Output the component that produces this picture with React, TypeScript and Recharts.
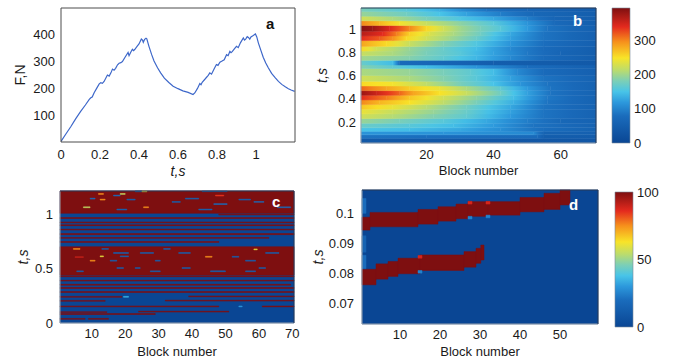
import React from "react";
import { LineChart, Line, ComposedChart, XAxis, YAxis, ReferenceArea, Label } from "recharts";

// ---- panel a: force vs time ----
const forceTime = [0, 0.025, 0.05, 0.075, 0.1, 0.125, 0.145, 0.153, 0.16, 0.17, 0.185, 0.196, 0.204, 0.212, 0.221, 0.238, 0.247, 0.256, 0.264, 0.272, 0.28, 0.29, 0.298, 0.307, 0.315, 0.33, 0.344, 0.349, 0.357, 0.366, 0.372, 0.378, 0.39, 0.4, 0.412, 0.418, 0.422, 0.429, 0.436, 0.44, 0.451, 0.465, 0.477, 0.495, 0.511, 0.53, 0.553, 0.575, 0.6, 0.625, 0.652, 0.677, 0.686, 0.7, 0.712, 0.718, 0.724, 0.74, 0.755, 0.763, 0.772, 0.785, 0.797, 0.805, 0.815, 0.826, 0.837, 0.849, 0.857, 0.866, 0.872, 0.878, 0.89, 0.9, 0.909, 0.92, 0.935, 0.941, 0.947, 0.955, 0.961, 0.968, 0.974, 0.984, 0.991, 0.997, 1.004, 1.012, 1.025, 1.037, 1.05, 1.063, 1.08, 1.098, 1.115, 1.132, 1.15, 1.166, 1.18, 1.198];
const forceValue = [2, 30, 57, 86, 113, 138, 159, 165, 168, 184, 203, 217, 221, 219, 226, 250, 246, 258, 272, 268, 275, 288, 294, 296, 300, 318, 334, 322, 334, 346, 341, 345, 357, 366, 384, 380, 372, 383, 387, 385, 357, 326, 302, 277, 258, 238, 222, 208, 199, 191, 185, 177, 183, 200, 218, 214, 223, 236, 249, 258, 253, 272, 289, 286, 298, 302, 307, 326, 322, 338, 333, 337, 348, 357, 352, 370, 388, 380, 384, 393, 390, 384, 392, 396, 400, 403, 392, 370, 342, 316, 295, 277, 256, 240, 226, 215, 206, 199, 194, 189];
const aTimeTicks = [0, 0.2, 0.4, 0.6, 0.8, 1];
const aForceTicks = [100, 200, 300, 400];

// ---- panel b: force per block (t rows, [block, value] knots) ----
const bRowEdges = [0.02, 0.06, 0.09, 0.12, 0.15, 0.19, 0.23, 0.27, 0.31, 0.35, 0.39, 0.43, 0.47, 0.51, 0.55, 0.6, 0.66, 0.69, 0.73, 0.77, 0.81, 0.85, 0.9, 0.94, 0.98, 1.03, 1.07, 1.11, 1.15, 1.18];
const bRowKnots: number[][][] = [
  [[0.5, 40], [70.5, 35]],
  [[0.5, 85], [20, 80], [53, 75], [55, 50], [70.5, 45]],
  [[0.5, 115], [25, 115], [52, 105], [55, 60], [70.5, 55]],
  [[0.5, 150], [15, 145], [30, 130], [42, 110], [55, 80], [70.5, 60]],
  [[0.5, 170], [15, 160], [28, 145], [40, 120], [52, 85], [70.5, 60]],
  [[0.5, 195], [12, 180], [25, 160], [38, 130], [50, 95], [60, 70], [70.5, 60]],
  [[0.5, 225], [10, 210], [22, 185], [32, 165], [45, 120], [55, 85], [70.5, 60]],
  [[0.5, 240], [10, 220], [22, 195], [32, 170], [45, 125], [55, 85], [70.5, 60]],
  [[0.5, 265], [10, 240], [20, 210], [32, 175], [45, 130], [55, 85], [70.5, 60]],
  [[0.5, 300], [6, 275], [15, 250], [25, 215], [35, 180], [46, 135], [56, 85], [70.5, 60]],
  [[0.5, 340], [8, 305], [15, 265], [25, 225], [35, 190], [46, 145], [56, 90], [70.5, 60]],
  [[0.5, 380], [5, 355], [12, 315], [16, 285], [24, 250], [32, 220], [42, 175], [50, 125], [57, 85], [70.5, 60]],
  [[0.5, 315], [8, 285], [15, 262], [24, 240], [32, 205], [42, 165], [50, 120], [57, 85], [70.5, 60]],
  [[0.5, 255], [10, 245], [20, 215], [30, 180], [40, 150], [48, 115], [56, 85], [70.5, 60]],
  [[0.5, 225], [15, 205], [25, 185], [35, 160], [45, 125], [55, 85], [70.5, 60]],
  [[0.5, 205], [15, 195], [25, 180], [33, 165], [40, 145], [47, 105], [55, 75], [70.5, 55]],
  [[0.5, 185], [10, 165], [20, 145], [35, 115], [50, 80], [70.5, 55]],
  [[0.5, 170], [10, 145], [12, 75], [40, 50], [70.5, 40]],
  [[0.5, 200], [15, 185], [25, 165], [35, 140], [45, 105], [55, 75], [70.5, 50]],
  [[0.5, 220], [10, 205], [20, 180], [30, 160], [40, 125], [50, 90], [60, 65], [70.5, 50]],
  [[0.5, 255], [5, 225], [15, 195], [25, 170], [35, 145], [45, 105], [55, 75], [70.5, 50]],
  [[0.5, 285], [8, 255], [15, 220], [25, 185], [35, 155], [45, 115], [55, 80], [70.5, 55]],
  [[0.5, 340], [6, 320], [10, 295], [14, 255], [20, 225], [27, 200], [35, 170], [45, 125], [55, 85], [70.5, 55]],
  [[0.5, 365], [7, 340], [11, 305], [15, 260], [21, 230], [28, 205], [36, 175], [45, 130], [55, 85], [70.5, 55]],
  [[0.5, 390], [4, 380], [9, 345], [15, 300], [20, 255], [25, 225], [30, 200], [36, 180], [42, 160], [50, 120], [56, 85], [70.5, 55]],
  [[0.5, 300], [6, 275], [12, 245], [20, 220], [30, 190], [40, 160], [50, 115], [58, 75], [70.5, 50]],
  [[0.5, 225], [10, 205], [20, 180], [30, 155], [40, 130], [50, 95], [58, 65], [70.5, 50]],
  [[0.5, 195], [14, 175], [24, 150], [32, 125], [42, 95], [52, 70], [70.5, 50]],
  [[0.5, 180], [14, 160], [24, 135], [30, 110], [38, 85], [50, 65], [70.5, 45]],
];
const bMax = 395;
const bBlockTicks = [20, 40, 60];
const bTimeTicks = [0.2, 0.4, 0.6, 0.8, 1];
const bBarTicks = [0, 100, 200, 300];

// ---- panel c: state per block (0 / 100) ----
const cRedBands = [[0.44, 0.7], [1.005, 1.21]];
// [block from, block to, t from, t to]
const cRedLines = [
  [48, 70.5, 0.99, 0.998], [0.5, 70.5, 0.958, 0.966], [0.5, 70.5, 0.918, 0.926], [0.5, 70.5, 0.892, 0.9],
  [0.5, 70.5, 0.852, 0.86], [0.5, 70.5, 0.81, 0.82], [0.5, 63, 0.776, 0.784], [0.5, 48, 0.739, 0.747],
  [0.5, 70.5, 0.424, 0.432], [0.5, 70.5, 0.384, 0.392], [0.5, 69.5, 0.347, 0.355], [0.5, 70.5, 0.317, 0.325],
  [0.5, 70.5, 0.28, 0.288], [39, 70.5, 0.24, 0.248], [0.5, 19, 0.236, 0.244], [32, 70.5, 0.201, 0.209],
  [0.5, 14, 0.199, 0.207], [0.5, 48, 0.148, 0.156], [61, 70.5, 0.148, 0.156], [0.5, 14.5, 0.096, 0.104],
  [24, 51, 0.1, 0.108], [0.5, 29, 0.078, 0.086], [0.5, 8, 0.034, 0.042], [9, 15, 0.034, 0.042],
];
// [block from, block to, t from, t to, value]
const cSpots = [
  [23, 25, 1.203, 1.211, 15], [25, 26.5, 1.203, 1.211, 60], [43, 50.5, 1.204, 1.21, 15], [12, 13.5, 1.179, 1.187, 75],
  [18.5, 20, 1.179, 1.187, 55], [16.5, 18.5, 1.164, 1.172, 20], [9.5, 11, 1.136, 1.144, 20], [20.5, 23, 1.127, 1.135, 15],
  [38, 42, 1.136, 1.144, 15], [12.5, 14, 1.127, 1.135, 75], [34, 36.5, 1.106, 1.114, 15], [47, 49.5, 1.164, 1.172, 85],
  [54, 57.5, 1.127, 1.135, 15], [46.5, 50.5, 1.086, 1.094, 20], [7.5, 9.5, 1.057, 1.065, 55], [25.5, 27, 1.057, 1.065, 75],
  [42, 46, 1.036, 1.044, 15], [17.5, 20.5, 1.036, 1.044, 15], [65.5, 69.5, 1.057, 1.065, 20], [58.5, 61.5, 1.106, 1.114, 20],
  [4.5, 6.5, 0.675, 0.683, 75], [13, 15, 0.675, 0.683, 15], [31.5, 33.5, 0.675, 0.683, 15], [16.5, 21, 0.638, 0.646, 15],
  [24.5, 28.5, 0.638, 0.646, 15], [36, 39.5, 0.638, 0.646, 15], [58.5, 59.5, 0.671, 0.679, 60], [62, 66, 0.638, 0.646, 15],
  [12.5, 13.5, 0.607, 0.615, 60], [18.5, 21, 0.607, 0.615, 15], [5, 7.5, 0.6, 0.608, 90], [44, 46, 0.603, 0.611, 75],
  [52, 54, 0.603, 0.611, 15], [9.5, 11, 0.567, 0.575, 75], [15.5, 17.5, 0.567, 0.575, 15], [29, 30.5, 0.567, 0.575, 15],
  [56, 59, 0.567, 0.575, 15], [17.5, 19.5, 0.5, 0.508, 15], [23, 24.5, 0.5, 0.508, 15], [37, 39.5, 0.5, 0.508, 15],
  [60, 62, 0.5, 0.508, 15], [5.5, 7.5, 0.47, 0.478, 15], [27.5, 30.5, 0.47, 0.478, 15], [45.5, 50, 0.47, 0.478, 15],
  [56, 59, 0.47, 0.478, 15], [19.5, 21, 0.236, 0.244, 35], [54, 55, 0.148, 0.156, 30],
];
const cBlockTicks = [10, 20, 30, 40, 50, 60, 70];
const cTimeTicks = [0, 0.5, 1];

// ---- panel d: zoom on the two fronts ----
const dUpperFront = [
  [0.5, 2.5, 0.0944, 0.0987], [2.5, 14.5, 0.0955, 0.1003], [14.5, 19.5, 0.0964, 0.1013], [19.5, 24, 0.0974, 0.1022],
  [24, 27, 0.0982, 0.1031], [27, 32, 0.099, 0.1039], [32, 40, 0.0994, 0.1039], [40, 46, 0.1005, 0.1053],
  [46, 50, 0.1013, 0.1067], [50, 52.5, 0.1028, 0.1078],
];
const dLowerFront = [
  [0.5, 4, 0.0761, 0.0813], [4, 7, 0.078, 0.0831], [7, 9.5, 0.0789, 0.0839], [9.5, 15, 0.0798, 0.085],
  [15, 26, 0.0809, 0.0861], [26, 29, 0.082, 0.0872], [29, 30.2, 0.0833, 0.0883], [30.2, 31, 0.0844, 0.0894],
];
const dSpots = [
  [27, 28, 0.1031, 0.104, 88], [31.5, 32.5, 0.1031, 0.104, 88], [27, 28, 0.0981, 0.099, 25], [31.5, 32.5, 0.0985, 0.0994, 25],
  [14.5, 15.5, 0.085, 0.0859, 88], [14.5, 15.5, 0.08, 0.0809, 25], [0.5, 1.5, 0.1, 0.105, 20], [0.5, 1.5, 0.0815, 0.086, 20],
  [0.5, 1.5, 0.087, 0.0925, 15],
];
const dBlockTicks = [10, 20, 30, 40, 50];
const dTimeTicks = [0.07, 0.08, 0.09, 0.1];
const dBarTicks = [0, 50, 100];

// ---- colours ----
const JET: [number, string][] = [
  [0, "#0a4694"], [0.2, "#1a6cbc"], [0.3, "#2c98dc"], [0.38, "#48c4e8"], [0.46, "#7ccfb6"],
  [0.54, "#bcdc6c"], [0.63, "#f8e428"], [0.75, "#f6901c"], [0.86, "#e42a1e"], [1, "#7e0f10"],
];
function rgb(h: string) {
  return [1, 3, 5].map((i) => parseInt(h.slice(i, i + 2), 16));
}
function jet(f: number) {
  const x = Math.max(0, Math.min(1, f));
  for (let i = 1; i < JET.length; i++) {
    if (x <= JET[i][0]) {
      const k = (x - JET[i - 1][0]) / (JET[i][0] - JET[i - 1][0]);
      const a = rgb(JET[i - 1][1]);
      const b = rgb(JET[i][1]);
      return `rgb(${a.map((v, j) => Math.round(v + (b[j] - v) * k)).join(",")})`;
    }
  }
  return JET[JET.length - 1][1];
}

const FONT = "'Liberation Sans', Arial, Helvetica, sans-serif";
const TICK = { fill: "#1a1a1a", fontSize: 13, fontFamily: FONT };
const LBL = { fill: "#1a1a1a", fontSize: 13, fontFamily: FONT };

type Cell = { id: string; x1: number; x2: number; y1: number; y2: number; fill: string };

// matlab-style box: inward ticks on all sides
function boxAxes(xKey: string, xd: number[], xt: number[], yd: number[], yt: number[], color: string) {
  const common = { type: "number" as const, allowDataOverflow: true, tick: false, tickSize: 4, stroke: color };
  return [
    <XAxis key="bx" xAxisId="bx" dataKey={xKey} orientation="bottom" mirror domain={xd} ticks={xt} axisLine={false} {...common} />,
    <XAxis key="tx" xAxisId="tx" dataKey={xKey} orientation="top" mirror domain={xd} ticks={xt} {...common} />,
    <YAxis key="ly" yAxisId="ly" orientation="left" mirror domain={yd} ticks={yt} axisLine={false} {...common} />,
    <YAxis key="ry" yAxisId="ry" orientation="right" mirror domain={yd} ticks={yt} {...common} />,
  ];
}

function cellArea(c: Cell) {
  return (
    <ReferenceArea key={c.id} x1={c.x1} x2={c.x2} y1={c.y1} y2={c.y2} fill={c.fill} fillOpacity={1}
      stroke={c.fill} strokeWidth={0.5} ifOverflow="visible" />
  );
}

function toCells(prefix: string, rows: number[][], fill: (r: number[]) => string): Cell[] {
  return rows.map((r, i) => ({ id: `${prefix}${i}`, x1: r[0], x2: r[1], y1: r[2], y2: r[3], fill: fill(r) }));
}

function ColorBar({ top, max, ticks, mTop, mLeft }: { top: number; max: number; ticks: number[]; mTop: number; mLeft: number }) {
  const id = `bar${max}`;
  return (
    <div style={{ position: "absolute", left: 600, top }}>
      <ComposedChart width={73} height={180} data={[{ x: 0 }, { x: 1 }]}
        margin={{ top: mTop, right: 0, bottom: 180 - mTop - 135, left: mLeft }}>
        <defs>
          <linearGradient id={id} x1="0" y1="1" x2="0" y2="0">
            {JET.map(([p, c]) => <stop key={p} offset={p} stopColor={c} />)}
          </linearGradient>
        </defs>
        <XAxis dataKey="x" type="number" domain={[0, 1]} hide allowDataOverflow />
        <YAxis type="number" orientation="right" domain={[0, max]} ticks={ticks} allowDataOverflow
          width={73 - mLeft - 18} tickLine={false} tickSize={0} axisLine={false} tick={TICK} tickMargin={4} />
        <ReferenceArea x1={0} x2={1} y1={0} y2={max} fill={`url(#${id})`} fillOpacity={1} stroke="#7a8a9a" strokeWidth={0.6} />
        <YAxis yAxisId="m" type="number" orientation="left" mirror domain={[0, max]} ticks={ticks} allowDataOverflow
          tick={false} tickSize={3} stroke="#333" axisLine={false} />
      </ComposedChart>
    </div>
  );
}

function Letter({ x, y, text, color }: { x: number; y: number; text: string; color: string }) {
  return (
    <div style={{ position: "absolute", left: x - 6, top: y - 10, fontFamily: FONT, fontWeight: "bold", fontSize: 15, color, lineHeight: "18px" }}>
      {text}
    </div>
  );
}

export default function App() {
  const forceData = forceTime.map((t, i) => ({ t, f: forceValue[i] }));

  const bCells = bRowKnots.flatMap((knots, r) =>
    knots.slice(1).map((k, i) => ({
      id: `bg${r}_${i}`, x1: knots[i][0], x2: k[0], y1: bRowEdges[r], y2: bRowEdges[r + 1], v0: knots[i][1], v1: k[1],
      fill: `url(#bg${r}_${i})`,
    }))
  );

  const blue = jet(0);
  const red = jet(1);

  const cCells: Cell[] = [
    { id: "cbg", x1: 0.5, x2: 70.5, y1: 0, y2: 1.21, fill: blue },
    ...cRedBands.map((b, i) => ({ id: `cb${i}`, x1: 0.5, x2: 70.5, y1: b[0], y2: b[1], fill: red })),
    ...toCells("cl", cRedLines, () => red),
    ...toCells("cs", cSpots, (s) => jet(s[4] / 100)),
  ];
  const dCells: Cell[] = [
    { id: "dbg", x1: 0.5, x2: 59.5, y1: 0.063, y2: 0.1078, fill: blue },
    ...toCells("du", dUpperFront, () => red),
    ...toCells("dl", dLowerFront, () => red),
    ...toCells("ds", dSpots, (s) => jet(s[4] / 100)),
  ];

  return (
    <div style={{ position: "absolute", left: 0, top: 0, width: 673, height: 360, background: "#fff", overflow: "hidden" }}>
      {/* a */}
      <div style={{ position: "absolute", left: 0, top: 0 }}>
        <LineChart width={300} height={180} data={forceData} margin={{ top: 8, right: 5, bottom: 0, left: 0 }}>
          <XAxis dataKey="t" type="number" domain={[0, 1.2]} ticks={aTimeTicks} allowDataOverflow height={38}
            tickLine={false} tickSize={0} stroke="#4d4d4d" tick={TICK} tickMargin={8}>
            <Label value="t,s" position="insideBottom" offset={4} fontStyle="italic" {...LBL} fontSize={14} />
          </XAxis>
          <YAxis type="number" domain={[0, 500]} ticks={aForceTicks} allowDataOverflow width={61}
            tickLine={false} tickSize={0} stroke="#4d4d4d" tick={TICK} tickMargin={6}>
            <Label value="F,N" angle={-90} position="insideLeft" offset={20} style={{ textAnchor: "middle" }} {...LBL} fontSize={14} />
          </YAxis>
          {boxAxes("t", [0, 1.2], aTimeTicks, [0, 500], aForceTicks, "#4d4d4d")}
          <Line dataKey="f" stroke="#3d67c9" strokeWidth={1.2} dot={false} isAnimationActive={false} />
        </LineChart>
      </div>

      {/* b */}
      <div style={{ position: "absolute", left: 300, top: 0 }}>
        <ComposedChart width={300} height={180} data={bCells} margin={{ top: 8, right: 4, bottom: 0, left: 0 }}>
          <defs>
            {bCells.map((c) => (
              <linearGradient key={c.id} id={c.id} x1="0" y1="0" x2="1" y2="0">
                <stop offset="0" stopColor={jet(c.v0 / bMax)} />
                <stop offset="0.5" stopColor={jet((c.v0 + c.v1) / 2 / bMax)} />
                <stop offset="1" stopColor={jet(c.v1 / bMax)} />
              </linearGradient>
            ))}
          </defs>
          <XAxis dataKey="x1" type="number" domain={[0.5, 70.5]} ticks={bBlockTicks} allowDataOverflow height={37}
            tickLine={false} tickSize={0} stroke="#9aa3ad" tick={TICK} tickMargin={7}>
            <Label value="Block number" position="insideBottom" offset={5} {...LBL} />
          </XAxis>
          <YAxis type="number" domain={[0.02, 1.18]} ticks={bTimeTicks} allowDataOverflow width={61}
            tickLine={false} tickSize={0} stroke="#9aa3ad" tick={TICK} tickMargin={5}>
            <Label value="t,s" angle={-90} position="insideLeft" offset={22} style={{ textAnchor: "middle" }} fontStyle="italic" {...LBL} fontSize={14} />
          </YAxis>
          {bCells.map((c) => cellArea(c))}
          {boxAxes("x1", [0.5, 70.5], bBlockTicks, [0.02, 1.18], bTimeTicks, "#2a3a55")}
        </ComposedChart>
      </div>
      <ColorBar top={0} max={bMax} ticks={bBarTicks} mTop={8} mLeft={12} />

      {/* c */}
      <div style={{ position: "absolute", left: 0, top: 180 }}>
        <ComposedChart width={300} height={180} data={cCells} margin={{ top: 11, right: 6, bottom: 0, left: 0 }}>
          <XAxis dataKey="x1" type="number" domain={[0.5, 70.5]} ticks={cBlockTicks} allowDataOverflow height={37}
            tickLine={false} tickSize={0} stroke="#9aa3ad" tick={TICK} tickMargin={6}>
            <Label value="Block number" position="insideBottom" offset={4} {...LBL} />
          </XAxis>
          <YAxis type="number" domain={[0, 1.21]} ticks={cTimeTicks} allowDataOverflow width={60}
            tickLine={false} tickSize={0} stroke="#9aa3ad" tick={TICK} tickMargin={7}>
            <Label value="t,s" angle={-90} position="insideLeft" offset={23} style={{ textAnchor: "middle" }} fontStyle="italic" {...LBL} fontSize={14} />
          </YAxis>
          {cCells.map((c) => cellArea(c))}
          {boxAxes("x1", [0.5, 70.5], cBlockTicks, [0, 1.21], cTimeTicks, "#2a3a55")}
        </ComposedChart>
      </div>

      {/* d */}
      <div style={{ position: "absolute", left: 300, top: 180 }}>
        <ComposedChart width={300} height={180} data={dCells} margin={{ top: 10, right: 2, bottom: 0, left: 0 }}>
          <XAxis dataKey="x1" type="number" domain={[0.5, 59.5]} ticks={dBlockTicks} allowDataOverflow height={36}
            tickLine={false} tickSize={0} stroke="#9aa3ad" tick={TICK} tickMargin={6}>
            <Label value="Block number" position="insideBottom" offset={4} {...LBL} />
          </XAxis>
          <YAxis type="number" domain={[0.063, 0.1078]} ticks={dTimeTicks} allowDataOverflow width={62}
            tickLine={false} tickSize={0} stroke="#9aa3ad" tick={TICK} tickMargin={8}>
            <Label value="t,s" angle={-90} position="insideLeft" offset={18} style={{ textAnchor: "middle" }} fontStyle="italic" {...LBL} fontSize={14} />
          </YAxis>
          {dCells.map((c) => cellArea(c))}
          {boxAxes("x1", [0.5, 59.5], dBlockTicks, [0.063, 0.1078], dTimeTicks, "#2a3a55")}
        </ComposedChart>
      </div>
      <ColorBar top={180} max={100} ticks={dBarTicks} mTop={12} mLeft={15} />

      <Letter x={272} y={25} text="a" color="#111" />
      <Letter x={579} y={22} text="b" color="#fff" />
      <Letter x={278} y={203} text="c" color="#fff" />
      <Letter x={575} y={206} text="d" color="#fff" />
    </div>
  );
}
